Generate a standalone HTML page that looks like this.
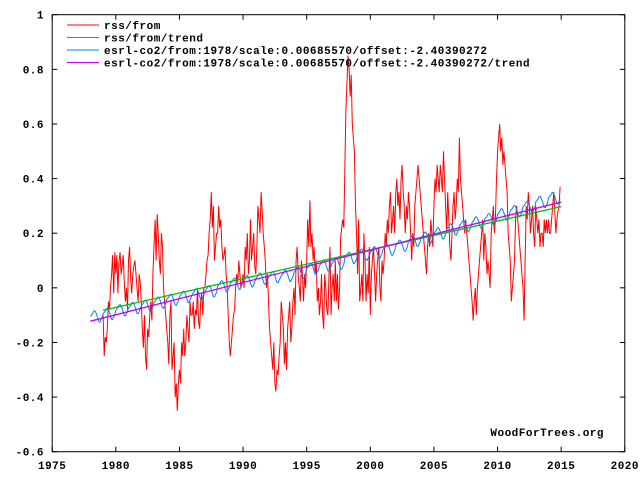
<!DOCTYPE html>
<html><head><meta charset="utf-8"><style>
body{margin:0;background:#fff}
svg{display:block}
text{font-family:"Liberation Mono","DejaVu Sans Mono",monospace;font-weight:bold;font-size:11px;letter-spacing:0.5px;fill:#000}
</style></head><body>
<svg id="chart" width="640" height="480" viewBox="0 0 640 480">
<rect x="0" y="0" width="640" height="480" fill="#fff"/>
<g id="grid"></g>
<g id="series"></g>
<rect x="52.2" y="14.7" width="572.6" height="437" fill="none" stroke="#000" stroke-width="1"/>
<g>
<line x1="67" y1="25" x2="99" y2="25" stroke="#ff0000"/>
<text x="104" y="29">rss/from</text>
<line x1="67" y1="37.5" x2="99" y2="37.5" stroke="#00c000"/>
<text x="104" y="41.5">rss/from/trend</text>
<line x1="67" y1="50" x2="99" y2="50" stroke="#0080ff"/>
<text x="104" y="54">esrl-co2/from:1978/scale:0.00685570/offset:-2.40390272</text>
<line x1="67" y1="62.5" x2="99" y2="62.5" stroke="#c000ff"/>
<text x="104" y="66.5">esrl-co2/from:1978/scale:0.00685570/offset:-2.40390272/trend</text>
</g>
<text x="604" y="436" text-anchor="end">WoodForTrees.org</text>
</svg>
<script>
const xTicks=[1975,1980,1985,1990,1995,2000,2005,2010,2015,2020];
const yTicks=[1,0.8,0.6,0.4,0.2,0,-0.2,-0.4,-0.6];
const yTickLabels=["1","0.8","0.6","0.4","0.2","0","-0.2","-0.4","-0.6"];
const rssStartYear=1979;
const rss=[
-0.10,-0.25,-0.18,-0.20,-0.15,-0.05,-0.08,0.00,0.05,0.12,-0.02,0.13,
0.05,0.12,-0.02,0.10,0.13,0.05,0.08,0.12,0.02,-0.05,0.00,-0.08,
0.10,0.15,0.03,-0.02,0.05,0.08,0.10,0.05,0.00,-0.05,0.05,0.02,
-0.05,-0.15,-0.22,-0.10,-0.25,-0.30,-0.15,-0.18,-0.10,-0.05,-0.12,0.05,
0.15,0.25,0.10,0.27,0.20,0.10,0.05,0.20,0.15,0.00,-0.05,-0.10,
-0.15,-0.20,-0.28,-0.10,-0.05,-0.30,-0.25,-0.20,-0.40,-0.35,-0.45,-0.35,
-0.30,-0.35,-0.20,-0.25,-0.15,-0.25,-0.20,-0.10,-0.15,-0.20,-0.05,-0.10,
-0.10,-0.05,-0.15,-0.08,-0.10,0.00,-0.12,-0.15,-0.05,-0.02,-0.10,0.00,
0.00,0.05,0.10,0.12,0.20,0.25,0.35,0.22,0.30,0.10,0.15,0.20,
0.20,0.30,0.22,0.25,0.15,0.10,0.12,0.15,0.05,0.00,-0.10,-0.20,
-0.25,-0.20,-0.15,-0.10,-0.08,0.00,0.05,0.02,0.10,0.05,0.00,0.02,
0.05,0.00,0.15,0.10,0.20,0.05,0.10,0.25,0.10,0.15,0.20,0.08,
0.05,0.15,0.30,0.25,0.20,0.35,0.28,0.20,0.15,0.10,0.00,0.05,
-0.05,-0.15,-0.20,-0.25,-0.30,-0.20,-0.35,-0.38,-0.30,-0.32,-0.25,-0.20,
-0.05,-0.10,-0.15,-0.28,-0.20,-0.30,-0.15,-0.10,-0.05,-0.20,-0.15,-0.05,
0.00,-0.10,0.10,0.15,0.05,0.00,-0.05,0.10,0.05,-0.05,0.05,0.00,
0.10,0.25,0.15,0.32,0.15,0.20,0.10,0.15,0.05,0.10,-0.05,0.00,
-0.10,-0.05,0.05,-0.10,-0.15,0.05,0.00,-0.08,-0.10,0.05,0.15,-0.10,
0.00,0.05,-0.05,0.10,-0.05,0.05,-0.08,0.00,0.18,0.22,0.25,0.22,
0.45,0.65,0.75,0.85,0.80,0.70,0.78,0.60,0.55,0.50,0.30,0.20,
0.05,0.25,-0.05,0.00,0.05,-0.05,0.20,0.10,-0.05,0.05,-0.02,0.15,
-0.10,0.05,0.10,0.15,0.05,-0.05,0.05,0.10,0.15,0.00,-0.05,0.10,
0.05,0.10,0.20,0.15,0.25,0.20,0.30,0.35,0.20,0.25,0.30,0.20,
0.35,0.40,0.30,0.35,0.25,0.40,0.45,0.35,0.30,0.20,0.30,0.25,
0.35,0.30,0.20,0.10,0.20,0.15,0.30,0.35,0.40,0.45,0.40,0.35,
0.30,0.25,0.20,0.15,0.10,0.05,0.15,0.20,0.15,0.25,0.20,0.15,
0.30,0.40,0.35,0.45,0.40,0.35,0.45,0.40,0.35,0.50,0.40,0.30,
0.20,0.35,0.25,0.15,0.10,0.20,0.30,0.35,0.25,0.30,0.40,0.35,
0.55,0.40,0.35,0.30,0.25,0.20,0.25,0.20,0.15,0.10,0.05,0.00,
-0.05,-0.12,-0.05,0.00,-0.10,0.00,0.05,0.10,0.15,0.20,0.25,0.10,
0.20,0.15,0.05,0.10,0.05,0.00,0.20,0.25,0.30,0.20,0.25,0.40,
0.50,0.55,0.60,0.50,0.55,0.45,0.50,0.45,0.40,0.35,0.20,0.15,
0.10,-0.05,0.00,0.05,0.10,0.25,0.30,0.25,0.20,0.15,0.10,0.05,
0.00,-0.12,0.10,0.30,0.25,0.35,0.30,0.20,0.25,0.30,0.20,0.15,
0.30,0.25,0.20,0.25,0.15,0.20,0.20,0.15,0.25,0.20,0.25,0.20,
0.25,0.20,0.20,0.25,0.30,0.35,0.28,0.20,0.25,0.28,0.30,0.37];
const co2StartYear=1978;
const co2Annual=[335.4,336.8,338.7,339.9,341.1,342.8,344.4,345.9,347.2,348.9,351.5,352.9,354.2,355.6,356.4,357.1,358.8,360.8,362.6,363.7,366.7,368.4,369.6,371.1,373.2,375.8,377.5,379.8,381.9,383.8,385.6,387.4,389.9,391.7,393.9,396.5,398.6];
const co2Seasonal=[0.0,0.7,1.4,2.6,3.0,2.3,0.8,-1.2,-2.9,-3.1,-1.8,-0.6];
const co2Scale=0.00685570, co2Offset=-2.40390272;

const NS='http://www.w3.org/2000/svg';
const X0=52.2,X1=624.8,Y0=451.7,Y1=14.7;
function xs(t){return X0+(t-1975)/(2020-1975)*(X1-X0);}
function ys(v){return Y0-(v-(-0.6))/(1-(-0.6))*(Y0-Y1);}
const grid=document.getElementById('grid');
const ser=document.getElementById('series');
function mk(tag,attrs,parent){const e=document.createElementNS(NS,tag);for(const k in attrs)e.setAttribute(k,attrs[k]);parent.appendChild(e);return e;}

xTicks.forEach(t=>{
  const x=xs(t);
  const a=mk('line',{x1:x,y1:Y0,x2:x,y2:Y0-5,stroke:'#000'},grid);
  
  
  const b=mk('line',{x1:x,y1:Y1,x2:x,y2:Y1+5,stroke:'#000'},grid);
  
  
  const l=mk('text',{x:x,y:469,'text-anchor':'middle'},grid);
  l.textContent=String(t);
  
  
});
yTicks.forEach((v,i)=>{
  const y=ys(v);
  const a=mk('line',{x1:X0,y1:y,x2:X0+5,y2:y,stroke:'#000'},grid);
  
  
  const b=mk('line',{x1:X1,y1:y,x2:X1-5,y2:y,stroke:'#000'},grid);
  
  
  const l=mk('text',{x:44,y:y+4,'text-anchor':'end'},grid);
  l.textContent=yTickLabels[i];
  
  
});

function fit(ts,vs){const n=ts.length;let st=0,sv=0,stt=0,stv=0;for(let i=0;i<n;i++){st+=ts[i];sv+=vs[i];stt+=ts[i]*ts[i];stv+=ts[i]*vs[i];}const b=(n*stv-st*sv)/(n*stt-st*st);return{b:b,a:(sv-b*st)/n};}

const rssT=rss.map((v,i)=>rssStartYear+i/12);
const rp=mk('polyline',{points:rss.map((v,i)=>xs(rssT[i]).toFixed(1)+','+ys(v).toFixed(1)).join(' '),fill:'none',stroke:'#ff0000','stroke-width':1},ser);



const co2V=[],co2T=[];
co2Annual.forEach((c,y)=>{co2Seasonal.forEach((s,m)=>{co2T.push(co2StartYear+y+m/12);co2V.push((c+s)*co2Scale+co2Offset);});});
const cp=mk('polyline',{points:co2V.map((v,i)=>xs(co2T[i]).toFixed(1)+','+ys(v).toFixed(1)).join(' '),fill:'none',stroke:'#0080ff','stroke-width':1},ser);



const fr=fit(rssT,rss);
const tr0=rssT[0],tr1=rssT[rssT.length-1]+1/12;
const gl=mk('line',{x1:xs(tr0),y1:ys(fr.a+fr.b*tr0),x2:xs(tr1),y2:ys(fr.a+fr.b*tr1),stroke:'#00c000','stroke-width':1.3},ser);


const fc=fit(co2T,co2V);
const tc0=co2T[0],tc1=co2T[co2T.length-1]+1/12;
const pl=mk('line',{x1:xs(tc0),y1:ys(fc.a+fc.b*tc0),x2:xs(tc1),y2:ys(fc.a+fc.b*tc1),stroke:'#c000ff','stroke-width':1.3},ser);


</script>
</body></html>
